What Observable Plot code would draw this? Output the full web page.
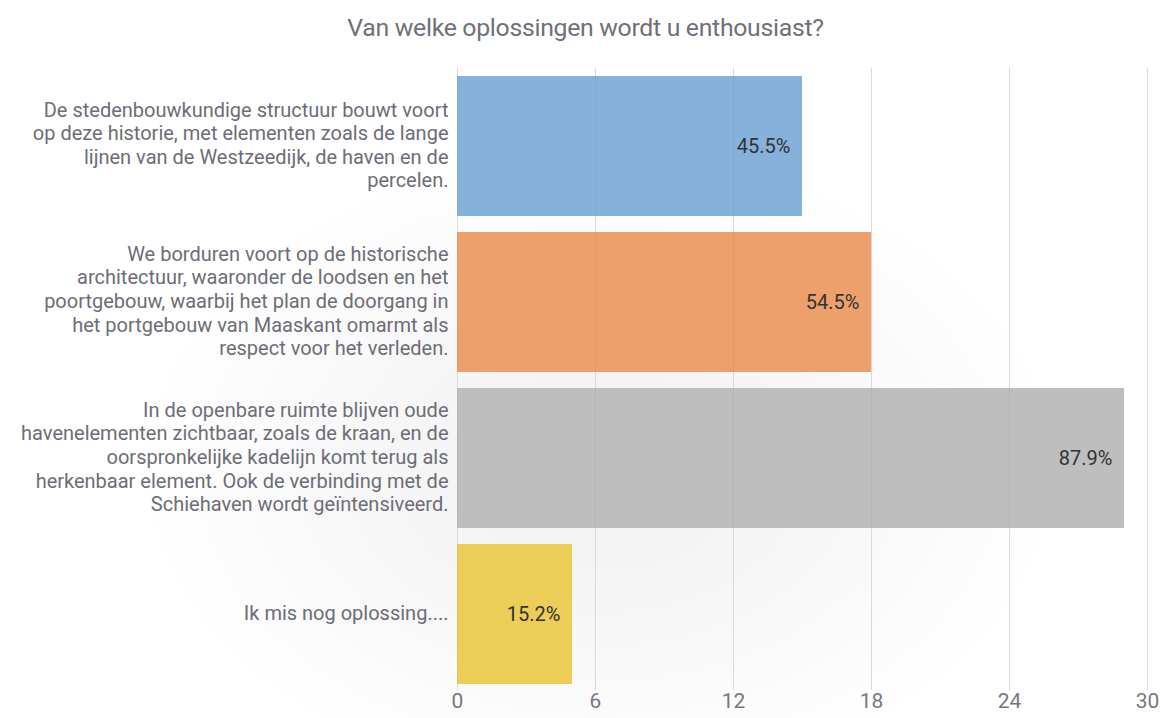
<!DOCTYPE html>
<html>
<head>
<meta charset="utf-8">
<script src="https://cdn.jsdelivr.net/npm/d3@7"></script>
<script src="https://cdn.jsdelivr.net/npm/@observablehq/plot@0.6"></script>
<style>
  html, body { margin: 0; padding: 0; }
  body {
    width: 1163px; height: 718px; overflow: hidden;
    font-family: Roboto, "Noto Sans", sans-serif;
    background: radial-gradient(ellipse 460px 320px at 600px 470px, #f0f0f0 0%, #f6f6f6 45%, #ffffff 100%);
  }
  #title {
    height: 56px; line-height: 56px; text-align: center;
    font-size: 24.8px; color: #707078; letter-spacing: -0.3px;
    padding-left: 8px;
  }
  #chart svg { display: block; }
</style>
</head>
<body>
<div id="title">Van welke oplossingen wordt u enthousiast?</div>
<div id="chart"></div>
<script>
const categories = [
  "De stedenbouwkundige structuur bouwt voort\nop deze historie, met elementen zoals de lange\nlijnen van de Westzeedijk, de haven en de\npercelen.",
  "We borduren voort op de historische\narchitectuur, waaronder de loodsen en het\npoortgebouw, waarbij het plan de doorgang in\nhet portgebouw van Maaskant omarmt als\nrespect voor het verleden.",
  "In de openbare ruimte blijven oude\nhavenelementen zichtbaar, zoals de kraan, en de\noorspronkelijke kadelijn komt terug als\nherkenbaar element. Ook de verbinding met de\nSchiehaven wordt geïntensiveerd.",
  "Ik mis nog oplossing...."
];
const counts = [15, 18, 29, 5];
const percents = ["45.5%", "54.5%", "87.9%", "15.2%"];
const colors = ["#86b1da", "#eda06b", "#bebebe", "#ebcd57"];
const xTicks = [0, 6, 12, 18, 24, 30];

const data = categories.map((c, i) => ({cat: c, value: counts[i], label: percents[i], color: colors[i]}));

const chart = Plot.plot({
  width: 1163,
  height: 662,
  marginLeft: 457,
  marginRight: 16,
  marginTop: 12,
  marginBottom: 28,
  style: {background: "transparent", fontFamily: "Roboto, sans-serif"},
  x: {domain: [0, 30], ticks: xTicks, label: null},
  y: {domain: categories, paddingInner: 0.1, paddingOuter: 0.0416, align: 0.615, label: null},
  marks: [
    Plot.gridX(xTicks, {stroke: "#e4e4e4", strokeOpacity: 1}),
    Plot.barX(data, {x: "value", y: "cat", fill: "color"}),
    Plot.gridX(xTicks, {stroke: "#000", strokeOpacity: 0.045}),
    Plot.text(data, {x: "value", y: "cat", text: "label", textAnchor: "end", dx: -12, fontSize: 20, fill: "#333"}),
    Plot.axisX(xTicks, {tickSize: 0, tickPadding: 3, fontSize: 21, fill: "#77777f", label: null}),
    Plot.axisY({tickSize: 0, tickPadding: 9, fontSize: 20, fill: "#6d6d77", lineHeight: 1.18, dy: -2, label: null, lineWidth: 100})
  ]
});
document.getElementById("chart").appendChild(chart);
</script>
</body>
</html>
